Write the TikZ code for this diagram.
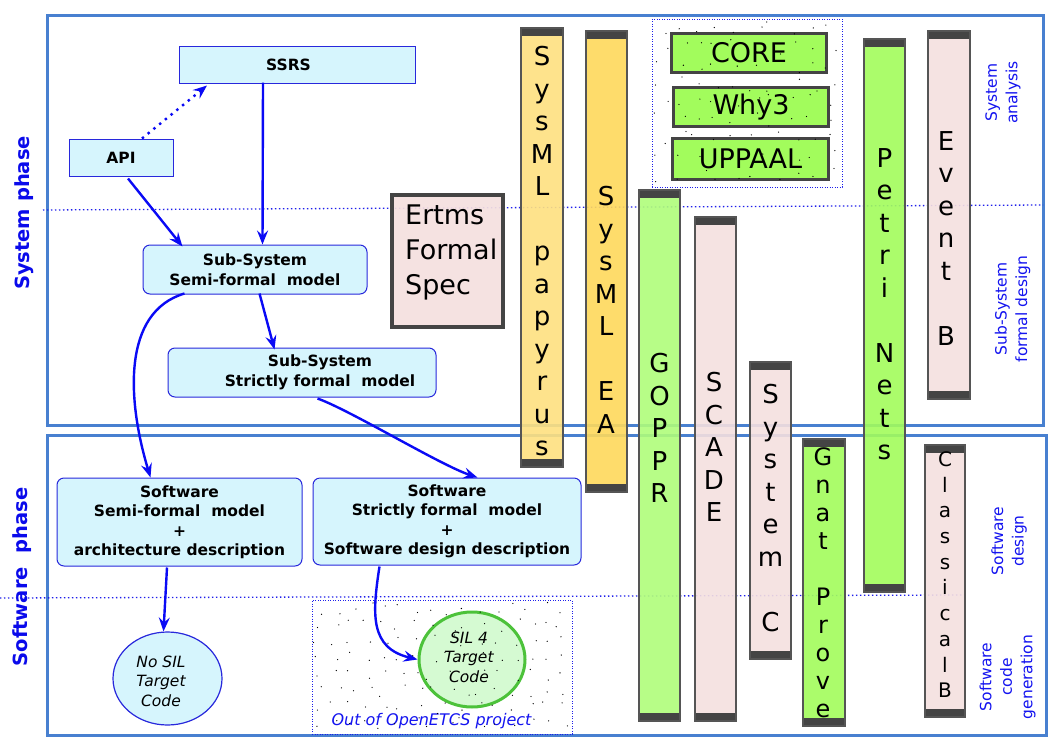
\documentclass[tikz,border=0pt]{standalone}
\usepackage{fontspec}
\setmainfont{DejaVu Sans}
\usetikzlibrary{arrows.meta,calc,shapes.geometric}
\definecolor{frameblue}{RGB}{72,128,208}
\definecolor{dotblue}{RGB}{30,30,235}
\definecolor{boxline}{RGB}{40,40,220}
\definecolor{boxfill}{RGB}{214,245,253}
\definecolor{arrowblue}{RGB}{10,10,245}
\definecolor{bargray}{RGB}{85,85,85}
\definecolor{bardark}{RGB}{68,68,68}
\definecolor{ylight}{RGB}{254,225,128}
\definecolor{ydeep}{RGB}{254,217,92}
\definecolor{gdeep}{RGB}{162,252,92}
\definecolor{glight}{RGB}{176,253,122}
\definecolor{pinkf}{RGB}{245,224,223}
\definecolor{labelblue}{RGB}{20,20,240}
\definecolor{phaseblue}{RGB}{10,10,235}
\definecolor{silgreen}{RGB}{76,194,58}
\definecolor{silfill}{RGB}{213,250,210}
\begin{document}
\begin{tikzpicture}[x=1pt,y=-1pt,
 frame/.style={draw=frameblue, line width=3pt},
 sepline/.style={draw=dotblue, line width=1.3pt, dash pattern=on 1.3pt off 2.7pt},
 groupbox/.style={draw=dotblue, line width=0.9pt, dash pattern=on 0.9pt off 1.6pt, inner sep=0pt},
 cbox/.style={draw=boxline, fill=boxfill, line width=1pt, inner sep=0pt, align=center, font=\fontsize{15.5}{19.5}\selectfont\bfseries},
 rcbox/.style={cbox, rounded corners=7pt},
 flow/.style={draw=arrowblue, line width=2.4pt, -{Stealth[length=14pt,width=11pt,inset=5pt]}},
 dotflow/.style={flow, dash pattern=on 2.4pt off 5pt},
 bar/.style={draw=bargray, line width=2.2pt, inner sep=0pt, fill opacity=0.9,
   path picture={\fill[bardark, fill opacity=1] (path picture bounding box.north west) rectangle ([yshift=-8pt]path picture bounding box.north east);
                 \fill[bardark, fill opacity=1] (path picture bounding box.south west) rectangle ([yshift=8pt]path picture bounding box.south east);}},
 bartext/.style={anchor=north, inner sep=0pt, align=center, font=\fontsize{26}{32.5}\selectfont},
 toolbox/.style={draw=bardark, line width=3pt, fill=gdeep, inner sep=0pt, font=\fontsize{27}{32}\selectfont},
 sidelabel/.style={rotate=90, align=center, text=labelblue, inner sep=0pt, font=\fontsize{15.5}{20.5}\selectfont},
 phaselabel/.style={rotate=90, text=phaseblue, inner sep=0pt, font=\fontsize{19.5}{23}\selectfont\bfseries},
 elltext/.style={align=center, inner sep=0pt, font=\fontsize{15.5}{19.5}\selectfont\itshape}
]
\useasboundingbox (0,0) rectangle (1053,745);
\fill[white] (0,0) rectangle (1053,745);

% frames
\node[frame, minimum width=996, minimum height=410, inner sep=0pt] (sysframe) at (545,220) {};
\node[frame, minimum width=999, minimum height=300, inner sep=0pt] (swframe) at (546.5,585) {};

% separators
\coordinate (s1a) at (43,210); \coordinate (s1b) at (1043,205);
\coordinate (s2a) at (0,598); \coordinate (s2b) at (966,595);
\draw[sepline] (s1a) -- (s1b);
\draw[sepline] (s2a) -- (s2b);

% phase labels
\node[phaselabel] (sysphase) at (24,213) {System phase};
\node[phaselabel] (swphase) at (22,577) {Software\ \ phase};

% group boxes
\node[groupbox, minimum width=190, minimum height=168] (toolgroup) at (747,103) {};
\node[groupbox, minimum width=260, minimum height=134] (outbox) at (442,667) {};
\node[anchor=base, inner sep=0pt, text=labelblue, font=\fontsize{16}{19}\selectfont\itshape] (outtext) at (431.5,725) {Out of OpenETCS project};

% flow boxes
\node[cbox, minimum width=236, minimum height=37] (ssrs) at (297.5,64.5) {SSRS\hspace*{18pt}};
\node[cbox, minimum width=104, minimum height=37] (api) at (121,157.5) {API};
\node[rcbox, minimum width=224, minimum height=49] (subsemi) at (255,269.5) {Sub-System\\Semi-formal\ \ model};
\node[rcbox, minimum width=268, minimum height=49] (substrict) at (302,372.5) {\hspace*{36pt}Sub-System\\\hspace*{36pt}Strictly formal\ \ model};
\node[rcbox, minimum width=245, minimum height=88] (swsemi) at (179.5,522) {Software\\Semi-formal\ \ model\\+\\architecture description};
\node[rcbox, minimum width=268, minimum height=87] (swstrict) at (447,521.5) {Software\\Strictly formal\ \ model\\+\\Software design description};

\node[ellipse, draw=boxline, line width=1.2pt, fill=boxfill, minimum width=109, minimum height=93, inner sep=0pt] (nosil) at (167.5,678.5) {};
\node[elltext] (nosiltext) at (161,681) {No SIL\\Target\\Code};
\node[ellipse, draw=silgreen, line width=3pt, fill=silfill, minimum width=106, minimum height=95, inner sep=0pt] (sil) at (472,659.5) {};
\node[elltext] (siltext) at (469,657) {SIL 4\\Target\\Code};

% arrows
\draw[dotflow] ($(api.north)+(21,0)$) -- ($(ssrs.south west)+(28,2)$);
\draw[flow] ($(api.south)+(7,2)$) -- ($(subsemi.north west)+(40,2)$);
\draw[flow] ($(ssrs.south west)+(84,-1)$) -- ($(subsemi.north west)+(120,0)$);
\draw[flow] ($(subsemi.south west)+(117,-1)$) -- ($(substrict.north west)+(107,2)$);
\draw[flow] ($(subsemi.south west)+(42,-1)$) .. controls (122,312) and (127,400) .. ($(swsemi.north west)+(94,0)$);
\draw[flow] ($(substrict.south west)+(150,1)$) .. controls (350,410) and (440,465) .. ($(swstrict.north west)+(165,0)$);
\draw[flow] ($(swsemi.south)+(-12.5,1)$) -- ($(nosil.north)+(-4,0)$);
\draw[flow] ($(swstrict.south west)+(67,1)$) .. controls (372,615) and (370,648) .. (sil.west);

% Ertms
\node[draw=bardark, line width=4pt, fill=pinkf, minimum width=111, minimum height=132, inner sep=0pt, fill opacity=0.92] (ertms) at (447.5,261) {};
\node[anchor=north west, inner sep=0pt, align=left, font=\fontsize{27}{35}\selectfont] (ertmstext) at (405,204.3) {Ertms\\Formal\\Spec};

% bars
\node[bar, fill=ylight, minimum width=42, minimum height=439] (papyrus) at (542,247.5) {};
\node[bar, fill=ydeep, minimum width=41, minimum height=461] (sysea) at (606.5,261.5) {};
\node[bar, fill=glight, minimum width=41, minimum height=531] (goppr) at (659.5,455.5) {};
\node[bar, fill=pinkf, minimum width=41, minimum height=504] (scade) at (715.5,469) {};
\node[bar, fill=pinkf, minimum width=41, minimum height=297] (systemc) at (770.5,510.5) {};
\node[bar, fill=gdeep, minimum width=42, minimum height=287] (gnat) at (824,582.5) {};
\node[bar, fill=gdeep, minimum width=41, minimum height=553] (petri) at (884.5,315.5) {};
\node[bar, fill=pinkf, minimum width=42, minimum height=368] (eventb) at (949,215) {};
\node[bar, fill=pinkf, minimum width=40, minimum height=272] (classb) at (945,581) {};

\node[bartext] (papyrustext) at (542,46) {S\\y\\s\\M\\L\\\mbox{}\\p\\a\\p\\y\\r\\u\\s};
\node[bartext] (seatext) at (606,186) {S\\y\\s\\M\\L\\\mbox{}\\E\\A};
\node[bartext] (gopprtext) at (659.5,353) {G\\O\\P\\P\\R};
\node[bartext] (scadetext) at (714,372) {S\\C\\A\\D\\E};
\node[bartext] (systemctext) at (770.5,384) {S\\y\\s\\t\\e\\m\\\mbox{}\\C};
\node[bartext, font=\fontsize{24}{28}\selectfont] (gnattext) at (823,447.5) {G\\n\\a\\t\\\mbox{}\\P\\r\\o\\v\\e};
\node[bartext] (petritext) at (884.5,148) {P\\e\\t\\r\\i\\\mbox{}\\N\\e\\t\\s};
\node[bartext] (eventbtext) at (946,131) {E\\v\\e\\n\\t\\\mbox{}\\B};
\node[bartext, font=\fontsize{20}{25.7}\selectfont] (classbtext) at (945,451.4) {C\\l\\a\\s\\s\\i\\c\\a\\l\\B};

% tool boxes
\node[toolbox, minimum width=155, minimum height=39] (core) at (749,53) {CORE};
\node[toolbox, minimum width=155, minimum height=39] (why) at (751,107) {Why3};
\node[toolbox, minimum width=156, minimum height=41] (uppaal) at (750.5,159) {UPPAAL};

% stipple (jittered grid)
\pgfmathsetseed{11}
\foreach \i in {0,...,15}{\foreach \j in {0,...,7}{%
  \pgfmathsetmacro\dx{313+16.2*\i+13*rnd}\pgfmathsetmacro\dy{602+16.5*\j+13*rnd}%
  \fill[black] (\dx,\dy) circle[radius=0.65];}}
\foreach \i in {0,...,9}{\foreach \j in {0,...,8}{%
  \pgfmathsetmacro\dx{654+18.8*\i+15*rnd}\pgfmathsetmacro\dy{21+18.4*\j+15*rnd}%
  \fill[black] (\dx,\dy) circle[radius=0.65];}}

% side labels
\node[sidelabel] (sysana) at (1003,92.5) {System\\analysis};
\node[sidelabel] (subdes) at (1012.5,309) {Sub-System\\formal design};
\node[sidelabel] (swdes) at (1009,541) {Software\\design};
\node[sidelabel] (swcode) at (1007.5,677) {Software\\code\\generation};
\end{tikzpicture}
\end{document}
